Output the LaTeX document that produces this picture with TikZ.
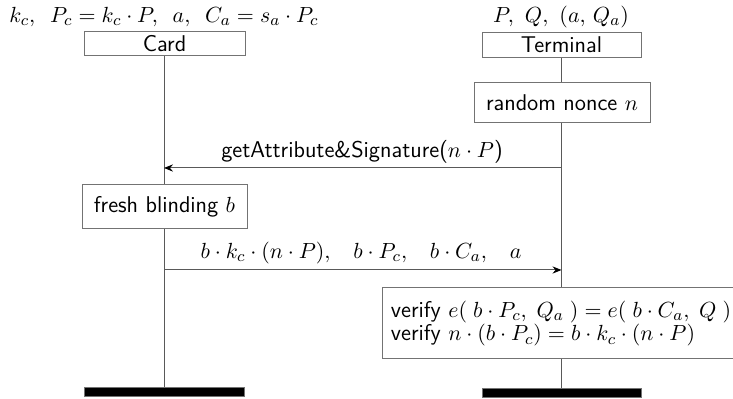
\documentclass[tikz,border=0pt]{standalone}
\usetikzlibrary{arrows.meta}
\definecolor{lineg}{gray}{0.35}
\definecolor{boxg}{gray}{0.45}
\newcommand{\diafont}{\fontsize{11.4}{11.9}\selectfont}
\newcommand{\msep}{\hspace{9.6pt}}
\tikzset{
  px/.style={x=0.5pt,y=-0.5pt},
  entity/.style={draw=boxg,line width=0.5pt,fill=white,inner sep=0pt,font=\diafont\sffamily},
  action/.style={draw=boxg,line width=0.5pt,fill=white,inner sep=0pt,font=\diafont\sffamily},
  endbar/.style={fill=black,draw=boxg,line width=0.4pt,inner sep=0pt,minimum width=80pt,minimum height=4.5pt},
  lifeline/.style={draw=lineg,line width=0.5pt},
  msg/.style={draw=lineg,line width=0.5pt,-{Stealth[length=4.5pt,width=3.6pt,inset=1.5pt,color=black]}},
  lbl/.style={inner sep=0pt,font=\diafont\sffamily},
}
\begin{document}
\begin{tikzpicture}[px]
\useasboundingbox (0,0) rectangle (733,399);
% headers
\node[lbl] (cardvars) at (164,17) {$k_c,\ \,P_c = k_c\cdot P,\ \,a,\ \,C_a = s_a\cdot P_c$};
\node[lbl] (termvars) at (561,17) {$P,\ Q,\ (a,\,Q_a)$};
% end bars
\node[endbar] (cardend) at (164,392) {};
\node[endbar,minimum width=79.5pt] (termend) at (561.5,392.5) {};
% lifelines
\coordinate (cardtop) at (164,56);
\coordinate (termtop) at (561.5,57);
\draw[lifeline] (cardtop) -- (cardend.north);
\draw[lifeline] (termtop) -- (termend.north);
% entity boxes
\node[entity,minimum width=80.5pt,minimum height=12pt] (card) at (164.5,44) {Card};
\node[entity,minimum width=79.5pt,minimum height=12.5pt] (term) at (561.5,45) {Terminal};
% actions
\node[action,minimum width=88pt,minimum height=20pt] (nonce) at (562,102.5) {random nonce $n$};
\node[action,minimum width=82.5pt,minimum height=22pt] (blind) at (164.5,207) {fresh blinding $b$};
\node[action,minimum width=179pt,minimum height=35.5pt,align=left] (verify) at (561,323.5)
  {verify $e(\;b\cdot P_c,\;Q_a\;) = e(\;b\cdot C_a,\;Q\;)$\\verify $n\cdot(b\cdot P_c) = b\cdot k_c\cdot(n\cdot P)$};
% messages
\coordinate (m1s) at (561.5,168);
\coordinate (m1e) at (164,168);
\draw[msg] (m1s) -- (m1e);
\node[lbl] (m1lbl) at (362,152) {getAttribute\&Signature($n\cdot P$)};
\coordinate (m2s) at (164,270);
\coordinate (m2e) at (561.5,270);
\draw[msg] (m2s) -- (m2e);
\node[lbl] (m2lbl) at (361,253) {$b\cdot k_c\cdot(n\cdot P),\msep b\cdot P_c,\msep b\cdot C_a,\msep a$};
\end{tikzpicture}
\end{document}
